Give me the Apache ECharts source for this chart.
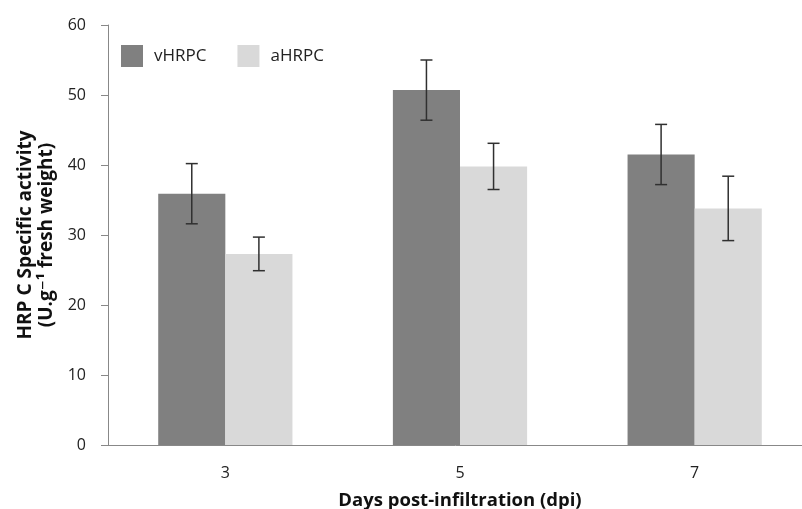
<!DOCTYPE html>
<html><head><meta charset="utf-8">
<script src="https://cdn.jsdelivr.net/npm/echarts@6/dist/echarts.min.js"></script>
<style>html,body{margin:0;padding:0;background:#fff}#c{width:802px;height:509px}</style>
</head><body><div id="c"></div>
<script>
const categories = ['3', '5', '7'];
const vHRPC = [35.9, 50.7, 41.5];
const vErr = [4.3, 4.3, 4.3];
const aHRPC = [27.3, 39.8, 33.8];
const aErr = [2.4, 3.3, 4.6];
const yTicks = [0, 10, 20, 30, 40, 50, 60];

const BAR_FRAC = 0.286;
const FONT = '"Open Sans", "DejaVu Sans", sans-serif';

function errSeries(name, vals, errs, side) {
  return {
    type: 'custom', name: name + ' err', silent: true, z: 5,
    data: vals.map((v, i) => [i, v, errs[i]]),
    renderItem: function (params, api) {
      const i = api.value(0), v = api.value(1), e = api.value(2);
      const band = api.size([1, 0])[0];
      const x = api.coord([i, v])[0] + side * band * BAR_FRAC / 2;
      const yt = api.coord([i, v + e])[1];
      const yb = api.coord([i, v - e])[1];
      const c = 6;
      const st = { stroke: '#303030', lineWidth: 1.5 };
      return { type: 'group', children: [
        { type: 'line', shape: { x1: x, y1: yt, x2: x, y2: yb }, style: st },
        { type: 'line', shape: { x1: x - c, y1: yt, x2: x + c, y2: yt }, style: st },
        { type: 'line', shape: { x1: x - c, y1: yb, x2: x + c, y2: yb }, style: st }
      ]};
    }
  };
}

const chart = echarts.init(document.getElementById('c'));
chart.setOption({
  animation: false,
  backgroundColor: '#fff',
  textStyle: { fontFamily: FONT },
  grid: { left: 108, top: 25, right: -10, bottom: 64, outerBoundsMode: 'none', containLabel: false },
  legend: {
    data: ['vHRPC', 'aHRPC'], left: 116, top: 40, icon: 'rect',
    itemWidth: 22, itemHeight: 22, itemGap: 31,
    textStyle: { fontSize: 17, color: '#222', fontFamily: FONT, padding: [0, 0, 0, 6] }
  },
  xAxis: {
    type: 'category', data: categories,
    name: 'Days post-infiltration (dpi)', nameLocation: 'middle', nameGap: 46,
    nameTextStyle: { fontSize: 18.5, fontWeight: 'bold', color: '#111', fontFamily: FONT },
    axisLine: { lineStyle: { color: '#888', width: 1 } },
    axisTick: { length: 7, lineStyle: { color: '#888' } },
    axisLabel: { fontSize: 16, color: '#222', margin: 20 }
  },
  yAxis: {
    type: 'value', min: yTicks[0], max: yTicks[yTicks.length - 1], interval: 10,
    name: 'HRP C Specific activity\n(U.g⁻¹ fresh weight)', nameLocation: 'middle', nameGap: 48,
    nameRotate: 90,
    nameTextStyle: { fontSize: 19, fontWeight: 'bold', color: '#111', fontFamily: FONT, lineHeight: 21 },
    axisLine: { show: true, lineStyle: { color: '#888', width: 1 } },
    axisTick: { show: true, length: 7, lineStyle: { color: '#888' } },
    axisLabel: { fontSize: 16, color: '#222', margin: 22 },
    splitLine: { show: false }
  },
  series: [
    { name: 'vHRPC', type: 'bar', data: vHRPC, barWidth: (BAR_FRAC * 100) + '%', barGap: '0%',
      itemStyle: { color: '#808080' } },
    { name: 'aHRPC', type: 'bar', data: aHRPC, barWidth: (BAR_FRAC * 100) + '%', barGap: '0%',
      itemStyle: { color: '#d9d9d9' } },
    errSeries('vHRPC', vHRPC, vErr, -1),
    errSeries('aHRPC', aHRPC, aErr, 1)
  ]
});
</script></body></html>
